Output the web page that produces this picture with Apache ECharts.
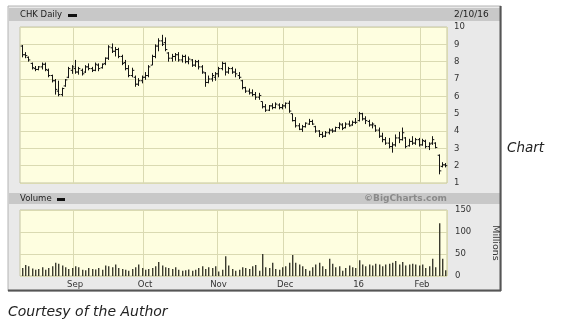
<!DOCTYPE html>
<html><head><meta charset="utf-8">
<script src="https://cdn.jsdelivr.net/npm/echarts@6/dist/echarts.min.js"></script>
<style>html,body{margin:0;padding:0;background:#fff}#c{width:570px;height:327px}</style>
</head><body><div id="c"></div>
<script>
// Trading days per month (Aug 2015 - Feb 2016)
const aug15 = [10,11,12,13,14,17,18,19,20,21,24,25,26,27,28,31];
const sep15 = [1,2,3,4,8,9,10,11,14,15,16,17,18,21,22,23,24,25,28,29,30];
const oct15 = [1,2,5,6,7,8,9,12,13,14,15,16,19,20,21,22,23,26,27,28,29,30];
const nov15 = [2,3,4,5,6,9,10,11,12,13,16,17,18,19,20,23,24,25,27,30];
const dec15 = [1,2,3,4,7,8,9,10,11,14,15,16,17,18,21,22,23,24,28,29,30,31];
const jan16 = [4,5,6,7,8,11,12,13,14,15,19,20,21,22,25,26,27,28,29];
const feb16 = [1,2,3,4,5,8,9,10];

const tickDates = ['2015-09-01','2015-10-01','2015-11-02','2015-12-01','2016-01-04','2016-02-01'];
const tickLabels = ['Sep','Oct','Nov','Dec','16','Feb'];
const priceTicks = [1,10,1];   // min, max, step
const volTicks = [0,150,50];

const open = [8.9,8.4,8.25,7.9,7.6,7.55,7.7,7.85,7.5,7.2,6.9,6.3,6.1,6.6,7.1,7.5,
7.6,7.4,7.5,7.4,7.7,7.6,7.5,7.8,7.65,7.9,8.2,8.8,8.6,8.7,8.3,7.95,7.6,7.2,7.1,6.7,6.9,
7.1,7.2,7.8,8.3,8.9,9.2,9.1,8.5,8.2,8.3,8.4,8.1,8.3,8.0,8.1,7.8,8.0,7.7,7.35,6.8,7.0,7.1,
7.3,7.6,7.9,7.4,7.6,7.4,7.2,6.9,6.5,6.3,6.2,6.1,5.95,5.7,5.4,5.2,5.45,5.35,5.5,5.35,
5.45,5.6,5.0,4.6,4.3,4.1,4.25,4.4,4.55,4.25,4.0,3.8,3.7,3.9,4.05,4.0,4.2,4.35,4.2,4.4,4.35,4.5,
4.6,5.0,4.7,4.55,4.35,4.3,4.05,3.7,3.5,3.3,3.1,3.2,3.6,3.5,3.6,3.15,3.4,3.3,3.5,
3.2,3.4,3.1,3.3,3.3,2.6,1.95,2.05];
const high = [8.96,8.55,8.3,7.95,7.75,7.75,7.95,7.95,7.6,7.25,7.0,6.9,6.5,7.0,7.7,7.8,
8.1,7.7,7.6,7.8,7.9,7.7,7.95,7.9,7.9,8.25,8.95,9.05,8.85,8.8,8.4,8.1,7.8,7.65,7.2,7.05,7.2,
7.4,7.8,8.4,9.0,9.35,9.55,9.4,8.55,8.45,8.5,8.55,8.4,8.4,8.3,8.15,8.1,8.1,7.8,7.4,7.2,7.35,7.4,
7.7,8.0,7.95,7.7,7.7,7.6,7.4,6.95,6.55,6.45,6.4,6.25,6.2,5.7,5.55,5.5,5.6,5.65,5.6,5.55,
5.65,5.75,5.0,4.8,4.45,4.35,4.5,4.7,4.65,4.3,4.05,3.95,4.0,4.15,4.15,4.25,4.5,4.45,4.5,4.6,4.6,4.75,
5.1,5.05,4.85,4.65,4.5,4.35,4.2,3.9,3.65,3.6,3.35,3.8,3.95,4.2,3.65,3.55,3.7,3.6,3.6,
3.55,3.5,3.35,3.7,3.35,2.65,2.2,2.15];
const low = [8.25,8.2,8.0,7.55,7.45,7.5,7.55,7.45,7.1,6.8,6.1,6.0,6.0,6.55,7.05,7.3,
7.3,7.25,7.2,7.35,7.5,7.4,7.45,7.45,7.6,7.8,8.1,8.5,8.3,8.2,7.8,7.5,7.1,7.1,6.55,6.6,6.75,
6.95,7.1,7.8,8.2,8.6,8.9,8.6,8.0,8.0,8.05,8.0,7.95,7.9,7.85,7.7,7.7,7.55,7.3,6.55,6.75,6.85,6.9,
7.1,7.5,7.2,7.3,7.3,7.1,7.0,6.4,6.2,6.1,6.0,5.8,5.8,5.3,5.1,5.15,5.25,5.3,5.25,5.25,
5.3,5.05,4.55,4.2,4.05,3.95,4.2,4.35,4.35,3.9,3.65,3.6,3.65,3.8,3.9,3.95,4.1,4.05,4.15,4.25,4.3,4.4,
4.55,4.6,4.4,4.25,4.15,3.95,3.6,3.35,3.2,3.0,2.75,3.1,3.3,3.45,3.0,3.1,3.2,3.2,3.1,
3.15,3.0,2.9,3.2,3.0,1.5,1.9,1.9];
const close = [8.4,8.35,8.1,7.65,7.55,7.7,7.85,7.55,7.2,6.9,6.4,6.1,6.45,6.95,7.6,7.7,
7.4,7.6,7.3,7.7,7.6,7.5,7.85,7.6,7.85,8.2,8.85,8.6,8.7,8.3,7.9,7.6,7.2,7.5,6.7,6.9,7.1,
7.2,7.7,8.3,8.9,9.2,9.0,8.7,8.2,8.3,8.4,8.1,8.3,8.0,8.15,7.8,8.0,7.7,7.4,6.8,7.0,7.2,7.3,
7.6,7.9,7.4,7.6,7.4,7.3,7.1,6.5,6.3,6.2,6.1,5.95,6.05,5.4,5.2,5.45,5.35,5.55,5.35,5.45,
5.6,5.15,4.6,4.3,4.1,4.25,4.45,4.55,4.4,4.0,3.8,3.7,3.9,4.05,4.0,4.2,4.4,4.15,4.4,4.3,4.5,4.5,
5.0,4.7,4.6,4.35,4.4,4.05,3.7,3.5,3.3,3.1,3.2,3.6,3.5,3.9,3.1,3.4,3.3,3.5,3.2,
3.45,3.1,3.25,3.5,3.05,1.7,2.05,2.0];
const volume = [18,25,22,17,14,16,20,14,18,22,30,28,24,20,16,18,
22,20,14,13,18,16,15,18,14,24,22,20,26,18,16,14,12,16,20,26,18,
14,16,18,22,32,24,20,18,16,20,14,12,13,15,12,14,18,22,16,20,18,22,
10,14,45,24,16,12,14,20,18,16,22,25,12,50,20,18,30,16,14,20,
22,30,48,30,26,22,16,12,20,26,30,22,16,39,28,20,22,12,18,24,20,18,
36,26,22,26,24,28,26,22,26,28,30,34,26,32,24,26,28,26,24,
26,18,22,39,20,120,39,13];

function pad(n){return (n<10?'0':'')+n;}
const months = [['2015-08',aug15],['2015-09',sep15],['2015-10',oct15],['2015-11',nov15],['2015-12',dec15],['2016-01',jan16],['2016-02',feb16]];
const dates = [];
months.forEach(m => m[1].forEach(d => dates.push(m[0]+'-'+pad(d))));
const ohlc = dates.map((d,i) => [i, open[i], close[i], low[i], high[i]]);
const vols = dates.map((d,i) => [i, volume[i]]);
const isTick = (idx) => tickDates.indexOf(dates[idx]) >= 0;

const FONT = 'DejaVu Sans';
const gridLine = '#dadab2';
const chart = echarts.init(document.getElementById('c'), null, {renderer:'canvas'});
chart.setOption({
  animation:false,
  backgroundColor:'#ffffff',
  textStyle:{fontFamily:FONT},
  grid:[
    {left:20, top:27, width:427, height:156, show:true, backgroundColor:'#fefee0', borderColor:'#c4c4a4', borderWidth:1},
    {left:20, top:210, width:427, height:66, show:true, backgroundColor:'#fefee0', borderColor:'#c4c4a4', borderWidth:1}
  ],
  xAxis:[
    {type:'category', gridIndex:0, data:dates, boundaryGap:true,
     axisLine:{show:false}, axisTick:{show:false}, axisLabel:{show:false},
     splitLine:{show:true, interval:(i)=>isTick(i), lineStyle:{color:gridLine, width:1}}},
    {type:'category', gridIndex:1, data:dates, boundaryGap:true,
     axisLine:{show:false}, axisTick:{show:false},
     axisLabel:{show:true, interval:(i)=>isTick(i), formatter:(v)=>tickLabels[tickDates.indexOf(v)], color:'#333', fontSize:8.5, margin:4, fontFamily:FONT},
     splitLine:{show:true, interval:(i)=>isTick(i), lineStyle:{color:gridLine, width:1}}}
  ],
  yAxis:[
    {type:'value', gridIndex:0, position:'right', min:priceTicks[0], max:priceTicks[1], interval:priceTicks[2],
     axisLine:{show:false}, axisTick:{show:false},
     axisLabel:{color:'#333', fontSize:8.5, margin:7, fontFamily:FONT},
     splitLine:{show:true, lineStyle:{color:gridLine, width:1}}},
    {type:'value', gridIndex:1, position:'right', min:volTicks[0], max:volTicks[1], interval:volTicks[2],
     name:'Millions', nameLocation:'middle', nameRotate:-90, nameGap:43,
     nameTextStyle:{color:'#333', fontSize:9.5, fontFamily:FONT},
     axisLine:{show:false}, axisTick:{show:false},
     axisLabel:{color:'#333', fontSize:8.5, margin:8, fontFamily:FONT},
     splitLine:{show:true, lineStyle:{color:gridLine, width:1}}}
  ],
  series:[
    {type:'custom', xAxisIndex:0, yAxisIndex:0, data:ohlc, encode:{x:0, y:[1,2,3,4]},
     renderItem:function(params, api){
       const x = api.value(0);
       const o = api.coord([x, api.value(1)]);
       const c = api.coord([x, api.value(2)]);
       const l = api.coord([x, api.value(3)]);
       const h = api.coord([x, api.value(4)]);
       const px = Math.round(h[0]) + 0.5;
       const st = {stroke:'#151515', lineWidth:1};
       return {type:'group', children:[
         {type:'line', shape:{x1:px, y1:h[1], x2:px, y2:l[1]}, style:st},
         {type:'line', shape:{x1:px-1.8, y1:o[1], x2:px, y2:o[1]}, style:st},
         {type:'line', shape:{x1:px, y1:c[1], x2:px+1.8, y2:c[1]}, style:st}
       ]};
     }},
    {type:'custom', xAxisIndex:1, yAxisIndex:1, data:vols, encode:{x:0, y:1},
     renderItem:function(params, api){
       const top = api.coord([api.value(0), api.value(1)]);
       const base = api.coord([api.value(0), 0]);
       const px = Math.round(top[0]);
       return {type:'rect', shape:{x:px, y:top[1], width:1.4, height:base[1]-top[1]}, style:{fill:'#3c3c30'}};
     }}
  ],
  graphic:[
    {type:'rect', z:-10, shape:{x:8, y:6, width:493, height:285}, style:{fill:'#e9e9e9', stroke:'#b4b4b4', lineWidth:1}},
    {type:'rect', z:-9, shape:{x:9, y:8, width:491, height:13}, style:{fill:'#c8c8c8'}},
    {type:'rect', z:-9, shape:{x:9, y:193, width:491, height:11}, style:{fill:'#c8c8c8'}},
    {type:'line', z:-8, shape:{x1:500.5, y1:6, x2:500.5, y2:291}, style:{stroke:'#555', lineWidth:2}},
    {type:'line', z:-8, shape:{x1:8, y1:290.5, x2:501, y2:290.5}, style:{stroke:'#555', lineWidth:2}},
    {type:'text', z:10, x:20, y:15, style:{text:'CHK Daily', font:'8.5px "DejaVu Sans"', fill:'#222', textVerticalAlign:'middle'}},
    {type:'rect', z:10, shape:{x:68, y:14, width:9, height:3}, style:{fill:'#111'}},
    {type:'text', z:10, x:454, y:15, style:{text:'2/10/16', font:'9px "DejaVu Sans"', fill:'#222', textVerticalAlign:'middle'}},
    {type:'text', z:10, x:20, y:199, style:{text:'Volume', font:'8.5px "DejaVu Sans"', fill:'#222', textVerticalAlign:'middle'}},
    {type:'rect', z:10, shape:{x:57, y:198, width:8, height:3}, style:{fill:'#111'}},
    {type:'text', z:10, x:447, y:199, style:{text:'©BigCharts.com', font:'bold 9px "DejaVu Sans"', fill:'#8a8a8a', textAlign:'right', textVerticalAlign:'middle'}},
    {type:'text', z:10, x:507, y:148, style:{text:'Chart', font:'italic 13.5px "DejaVu Sans"', fill:'#222', textVerticalAlign:'middle'}},
    {type:'text', z:10, x:8, y:312, style:{text:'Courtesy of the Author', font:'italic 14px "DejaVu Sans"', fill:'#222', textVerticalAlign:'middle'}}
  ]
});
</script></body></html>
